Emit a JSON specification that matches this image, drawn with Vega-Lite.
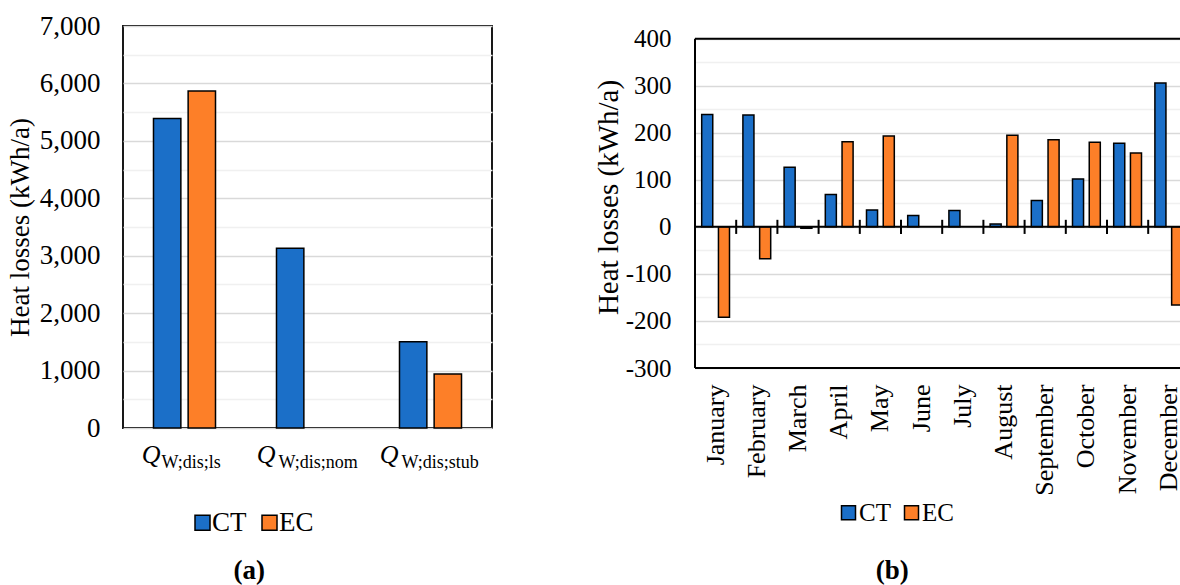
{
  "$schema": "https://vega.github.io/schema/vega-lite/v6.json",
  "background": "white",
  "padding": {"left": 5, "top": 11, "right": 0, "bottom": 0},
  "datasets": {
    "a": [
      {"q": "ls", "series": "CT", "value": 5390},
      {"q": "ls", "series": "EC", "value": 5870},
      {"q": "nom", "series": "CT", "value": 3130},
      {"q": "stub", "series": "CT", "value": 1500},
      {"q": "stub", "series": "EC", "value": 940}
    ],
    "b": [
      {"month": "January", "series": "CT", "value": 239},
      {"month": "January", "series": "EC", "value": -192},
      {"month": "February", "series": "CT", "value": 238},
      {"month": "February", "series": "EC", "value": -68},
      {"month": "March", "series": "CT", "value": 127},
      {"month": "March", "series": "EC", "value": -3},
      {"month": "April", "series": "CT", "value": 69},
      {"month": "April", "series": "EC", "value": 181},
      {"month": "May", "series": "CT", "value": 36},
      {"month": "May", "series": "EC", "value": 193},
      {"month": "June", "series": "CT", "value": 24},
      {"month": "July", "series": "CT", "value": 35},
      {"month": "August", "series": "CT", "value": 6},
      {"month": "August", "series": "EC", "value": 195},
      {"month": "September", "series": "CT", "value": 56},
      {"month": "September", "series": "EC", "value": 185},
      {"month": "October", "series": "CT", "value": 102},
      {"month": "October", "series": "EC", "value": 180},
      {"month": "November", "series": "CT", "value": 178},
      {"month": "November", "series": "EC", "value": 157},
      {"month": "December", "series": "CT", "value": 306},
      {"month": "December", "series": "EC", "value": -166}
    ]
  },
  "hconcat": [
    {
      "width": 369,
      "height": 402,
      "data": {"name": "a"},
      "title": {"text": "(a)", "orient": "bottom", "anchor": "middle", "frame": "bounds", "font": "Liberation Serif", "fontSize": 27, "fontWeight": "bold", "color": "black", "offset": 22},
      "encoding": {
        "y": {
          "field": "value", "type": "quantitative",
          "scale": {"domain": [0, 7000], "nice": false},
          "axis": {
            "title": "Heat losses (kWh/a)",
            "values": [0, 500, 1000, 1500, 2000, 2500, 3000, 3500, 4000, 4500, 5000, 5500, 6000, 6500, 7000],
            "labelExpr": "datum.value % 1000 === 0 ? format(datum.value, ',') : ''",
            "ticks": false, "domain": false, "grid": true,
            "gridColor": {"condition": {"test": "datum.value % 1000 === 0", "value": "#D9D9D9"}, "value": "#F0F0F0"},
            "gridWidth": 1.5,
            "labelFont": "Liberation Serif", "labelFontSize": 27, "labelPadding": 23, "labelColor": "black",
            "titleFont": "Liberation Serif", "titleFontSize": 27, "titleFontWeight": "normal", "titleColor": "black", "titlePadding": 5
          }
        },
        "xOffset": {"field": "series", "type": "nominal", "scale": {"domain": ["CT", "EC"], "paddingInner": 0.21, "paddingOuter": 0.88}},
        "color": {
          "field": "series", "type": "nominal",
          "scale": {"domain": ["CT", "EC"], "range": ["#1B6FC8", "#FD7F28"]},
          "legend": {"orient": "none", "legendX": 66, "legendY": 483, "direction": "horizontal", "title": null, "symbolType": "square", "symbolSize": 225, "symbolStrokeColor": "black", "symbolStrokeWidth": 1.5, "symbolOpacity": 1, "labelFont": "Liberation Serif", "labelFontSize": 27, "labelColor": "black", "labelOffset": -4, "columnPadding": 9, "padding": 0}
        }
      },
      "layer": [
        {
          "transform": [{"filter": "datum.series === 'CT'"}],
          "mark": {"type": "bar", "stroke": "black", "strokeWidth": 1.5},
          "encoding": {
            "x": {
              "field": "q", "type": "nominal", "sort": ["ls", "nom", "stub"],
              "scale": {"type": "band", "paddingInner": 0, "paddingOuter": 0},
              "axis": {"orient": "bottom", "title": null, "domain": false, "ticks": false, "tickSize": 0, "labelAngle": 0,
                "labelExpr": "'W;dis;' + datum.value",
                "labelFont": "Liberation Serif", "labelFontSize": 18, "labelColor": "black",
                "labelAlign": "left", "labelBaseline": "top", "labelPadding": 25,
                "labelOffset": {"condition": {"test": "datum.value === 'ls'", "value": -23}, "value": -29}}
            }
          }
        },
        {
          "transform": [{"filter": "datum.series === 'EC'"}],
          "mark": {"type": "bar", "stroke": "black", "strokeWidth": 1.5},
          "encoding": {
            "x": {
              "field": "q", "type": "nominal", "sort": ["ls", "nom", "stub"],
              "scale": {"type": "band", "paddingInner": 0, "paddingOuter": 0},
              "axis": {"orient": "bottom", "title": null, "domain": false, "ticks": false, "tickSize": 0, "labelAngle": 0,
                "labelExpr": "'Q'",
                "labelFont": "Liberation Serif", "labelFontSize": 26, "labelFontStyle": "italic", "labelColor": "black",
                "labelAlign": "right", "labelBaseline": "top", "labelPadding": 13,
                "labelOffset": {"condition": {"test": "datum.value === 'ls'", "value": -24}, "value": -32}}
            }
          }
        }
      ],
      "resolve": {"axis": {"x": "independent"}}
    },
    {
      "width": 494.4,
      "height": 342,
      "data": {"name": "b"},
      "view": {"stroke": null},
      "title": {"text": "(b)", "orient": "bottom", "anchor": "middle", "frame": "bounds", "font": "Liberation Serif", "fontSize": 27, "fontWeight": "bold", "color": "black", "offset": 32},
      "encoding": {
        "x": {
          "field": "month", "type": "nominal",
          "sort": ["January", "February", "March", "April", "May", "June", "July", "August", "September", "October", "November", "December"],
          "scale": {"type": "band", "paddingInner": 0, "paddingOuter": 0},
          "axis": {"orient": "bottom", "title": null, "domain": false, "ticks": false, "tickSize": 0, "labelAngle": -90,
            "labelFont": "Liberation Serif", "labelFontSize": 26, "labelColor": "black", "labelPadding": 16, "labelLimit": 300}
        },
        "y": {
          "field": "value", "type": "quantitative",
          "scale": {"domain": [-300, 427], "nice": false},
          "axis": {
            "title": "Heat losses (kWh/a)",
            "values": [-300, -250, -200, -150, -100, -50, 0, 50, 100, 150, 200, 250, 300, 350, 400],
            "labelExpr": "datum.value % 100 === 0 ? '' + datum.value : ''",
            "ticks": false, "domain": false, "grid": true,
            "gridColor": {"condition": {"test": "datum.value % 100 === 0", "value": "#D9D9D9"}, "value": "#F0F0F0"},
            "gridWidth": 1.5,
            "labelFont": "Liberation Serif", "labelFontSize": 25, "labelPadding": 24, "labelColor": "black",
            "titleFont": "Liberation Serif", "titleFontSize": 29, "titleFontWeight": "normal", "titleColor": "black", "titlePadding": 2
          }
        }
      },
      "layer": [
        {
          "mark": {"type": "bar", "stroke": "black", "strokeWidth": 1.5},
          "encoding": {
            "xOffset": {"field": "series", "type": "nominal", "scale": {"domain": ["CT", "EC"], "paddingInner": 0.34, "paddingOuter": 0.4}},
            "color": {
              "field": "series", "type": "nominal",
              "scale": {"domain": ["CT", "EC"], "range": ["#1B6FC8", "#FD7F28"]},
              "legend": {"orient": "none", "legendX": 141, "legendY": 474, "direction": "horizontal", "title": null, "symbolType": "square", "symbolSize": 196, "symbolStrokeColor": "black", "symbolStrokeWidth": 1.5, "symbolOpacity": 1, "labelFont": "Liberation Serif", "labelFontSize": 25, "labelColor": "black", "labelOffset": -2, "columnPadding": 8, "padding": 0}
            }
          }
        },
        {
          "data": {"values": [{"edge": 400}, {"edge": 0}, {"edge": -300}]},
          "mark": {"type": "rule", "color": "black", "strokeWidth": 2},
          "encoding": {"x": null, "y": {"field": "edge", "type": "quantitative"}}
        },
        {
          "transform": [{"filter": "datum.series === 'CT' && datum.month === 'January'"}],
          "mark": {"type": "rule", "color": "black", "strokeWidth": 2},
          "encoding": {
            "x": {
              "field": "month", "type": "nominal", "bandPosition": 0,
              "sort": ["January", "February", "March", "April", "May", "June", "July", "August", "September", "October", "November", "December"]
            },
            "y": {"datum": 400},
            "y2": {"datum": -300}
          }
        },
        {
          "transform": [{"filter": "datum.series === 'CT'"}],
          "mark": {"type": "rule", "color": "black", "strokeWidth": 2},
          "encoding": {
            "x": {
              "field": "month", "type": "nominal", "bandPosition": 0,
              "sort": ["January", "February", "March", "April", "May", "June", "July", "August", "September", "October", "November", "December"]
            },
            "y": {"datum": 15},
            "y2": {"datum": -15}
          }
        }
      ]
    }
  ],
  "spacing": 101,
  "resolve": {"scale": {"color": "independent", "xOffset": "independent"}, "legend": {"color": "independent"}},
  "config": {
    "view": {"stroke": "black", "strokeWidth": 1.8},
    "font": "Liberation Serif",
    "title": {"font": "Liberation Serif"}
  }
}
